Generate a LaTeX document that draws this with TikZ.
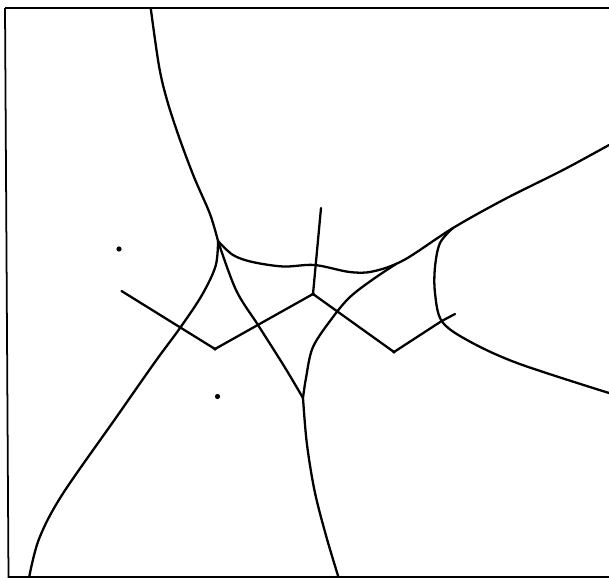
\documentclass[tikz,border=0pt]{standalone}
\usepackage{tikz}

\begin{document}
\begin{tikzpicture}[x=0.02cm, y=-0.02cm,
    edge/.style={line width=1.3pt, line join=round, line cap=round},
    branch/.style={edge, smooth, tension=0.55},
    frameline/.style={line width=1pt}]
    \useasboundingbox (0,0) rectangle (609,578);
    % frame
    \draw[frameline] (5,8) -- (609,8);
    \draw[frameline] (5,8) -- (8.5,578);
    \draw[frameline] (8.5,577) -- (609,577);
    % junctions
    \coordinate (A) at (218,241);
    \coordinate (B) at (303,398);
    \coordinate (C) at (441.7,321);
    \coordinate (D) at (313,294);
    \coordinate (E) at (215,349);
    \coordinate (F) at (394,352);
    \coordinate (G) at (453,228);
    % curved branches
    \draw[branch] plot coordinates {(150.7,8) (159,66) (167,100) (179,137) (194,177) (210,214) (A)};
    \draw[branch] plot coordinates {(A) (215.6,266) (202,295) (180,328) (155,362) (116.5,417) (62,495) (39,539) (29,578)};
    \draw[branch] plot coordinates {(A) (236,290) (258,325) (284,366) (B)};
    \draw[branch] plot coordinates {(B) (306.8,443) (314.6,491) (326,535.5) (338.7,578)};
    \draw[branch] plot coordinates {(B) (306,378) (313,347) (333,317) (350,297) (372,280) (396,264)};
    \draw[branch] plot coordinates {(A) (233,255) (252.5,262) (283.5,266.5) (314.6,265) (349.6,272) (373,271.4) (404,260) (G) (505,199) (563,170) (609,145)};
    \draw[branch] plot coordinates {(G) (440,243) (435,267) (435,293) (C) (467,340) (517,363) (609,393)};
    % straight segments
    \draw[edge] (321,208) -- (D);
    \draw[edge] (121.5,291) -- (E) -- (D) -- (F) -- (C) -- (455,314);
    \foreach \p in {E,D,F}
        \fill (\p) circle (1.8);
    % isolated points
    \fill (119,249) circle (2.6);
    \fill (217.5,396.5) circle (2.6);
\end{tikzpicture}
\end{document}
